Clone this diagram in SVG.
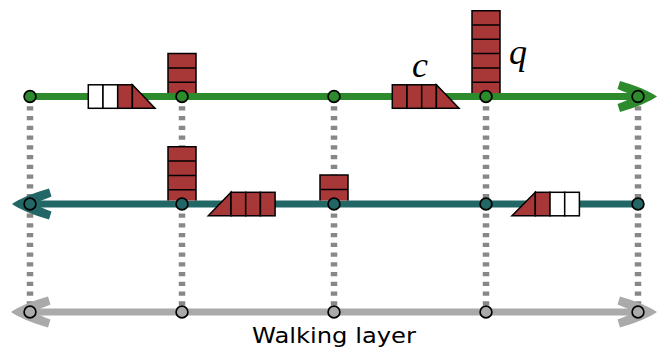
<svg xmlns="http://www.w3.org/2000/svg" xmlns:xlink="http://www.w3.org/1999/xlink" width="667" height="349" viewBox="0 0 667 349">
<style>
.dot{stroke:#888;stroke-width:6.5;stroke-dasharray:4.2 5.55;fill:none}
.hl{stroke-width:7;fill:none}
.g{stroke:#2d8a2d}.t{stroke:#236666}.w{stroke:#aaa}
.box{fill:#a83838;stroke:#000;stroke-width:1.5}
.wb{fill:#fff;stroke:#000;stroke-width:1.5}
.sf{fill:#a83838}
.se{fill:none;stroke:#000;stroke-width:1.5}
.n{stroke:#000;stroke-width:1.7}
.math{font-family:"Liberation Serif",serif;font-style:italic;font-size:36px}
.lbl{font-family:"DejaVu Sans",sans-serif;font-size:22px}
</style>
<defs>
<path id="ah" d="M0,0 C-6,-4.5 -22,-11.5 -37,-15.5 L-39.5,-7.5 C-33,-5 -27,-2.5 -22,0 C-27,2.5 -33,5 -39.5,7.5 L-37,15.5 C-22,11.5 -6,4.5 0,0 Z"/>
</defs>
<g id="connectors">
<path class="dot" d="M30,96.5V312M182,96.5V312M334,96.5V312M486,96.5V312M638,96.5V312"/>
<path class="hl g" d="M30,96.5H645"/>
<use xlink:href="#ah" href="#ah" transform="translate(657,96.5)" fill="#2d8a2d"/>
<path class="hl t" d="M24,204H638"/>
<use xlink:href="#ah" href="#ah" transform="translate(12,204) scale(-1,1)" fill="#236666"/>
<path class="hl w" d="M24,312H645"/>
<use xlink:href="#ah" href="#ah" transform="translate(657,312)" fill="#aaa"/>
<use xlink:href="#ah" href="#ah" transform="translate(11,312) scale(-1,1)" fill="#aaa"/>
</g>
<g id="stack-top-182">
<rect class="sf" x="168" y="53.6" width="28" height="39.4"/>
<path class="se" d="M168,93V53.6H196V93M168,67.9H196M168,82.2H196"/>
</g>
<g id="stack-top-486">
<rect class="sf" x="472" y="10.7" width="28" height="82.3"/>
<path class="se" d="M472,93V10.7H500V93M472,25H500M472,39.3H500M472,53.6H500M472,67.9H500M472,82.2H500"/>
</g>
<g id="stack-mid-182">
<rect class="sf" x="168" y="146.8" width="28" height="53.7"/>
<path class="se" d="M168,200.5V146.8H196V200.5M168,161.1H196M168,175.4H196M168,189.7H196"/>
</g>
<g id="stack-mid-334">
<rect class="sf" x="320" y="175" width="28" height="25.5"/>
<path class="se" d="M320,200.5V175H348V200.5M320,189.5H348"/>
</g>
<g id="queue-top-1">
<rect class="wb" x="88.3" y="84.8" width="14.7" height="23.5"/>
<rect class="wb" x="103" y="84.8" width="14.7" height="23.5"/>
<rect class="box" x="117.7" y="84.8" width="14.7" height="23.5"/>
<path class="box" d="M132.4,84.8L155,108.3H132.4Z"/>
</g>
<g id="queue-top-c">
<rect class="box" x="392.3" y="84.8" width="14.7" height="23.5"/>
<rect class="box" x="407" y="84.8" width="14.7" height="23.5"/>
<rect class="box" x="421.7" y="84.8" width="14.7" height="23.5"/>
<path class="box" d="M436.4,84.8L459,108.3H436.4Z"/>
<text class="math" x="420" y="77" text-anchor="middle">c</text>
</g>
<g id="queue-mid-1">
<path class="box" d="M231,192.3L208.3,215.8H231Z"/>
<rect class="box" x="231" y="192.3" width="14.7" height="23.5"/>
<rect class="box" x="245.7" y="192.3" width="14.7" height="23.5"/>
<rect class="box" x="260.4" y="192.3" width="14.7" height="23.5"/>
</g>
<g id="queue-mid-2">
<path class="box" d="M535.3,192.3L512,215.8H535.3Z"/>
<rect class="box" x="535.3" y="192.3" width="14.7" height="23.5"/>
<rect class="wb" x="550" y="192.3" width="14.7" height="23.5"/>
<rect class="wb" x="564.7" y="192.3" width="14.7" height="23.5"/>
</g>
<g id="label-q"><text class="math" x="518" y="63.5" text-anchor="middle">q</text></g>
<g id="nodes-green" fill="#2d8a2d">
<circle id="g1" class="n" cx="30" cy="96.5" r="5.9"/>
<circle id="g2" class="n" cx="182" cy="96.5" r="5.9"/>
<circle id="g3" class="n" cx="334" cy="96.5" r="5.9"/>
<circle id="g4" class="n" cx="486" cy="96.5" r="5.9"/>
<circle id="g5" class="n" cx="638" cy="96.5" r="5.9"/>
</g>
<g id="nodes-teal" fill="#236666">
<circle id="t1" class="n" cx="30" cy="204" r="5.9"/>
<circle id="t2" class="n" cx="182" cy="204" r="5.9"/>
<circle id="t3" class="n" cx="334" cy="204" r="5.9"/>
<circle id="t4" class="n" cx="486" cy="204" r="5.9"/>
<circle id="t5" class="n" cx="638" cy="204" r="5.9"/>
</g>
<g id="nodes-walk" fill="#aaa">
<circle id="w1" class="n" cx="30" cy="312" r="5.9"/>
<circle id="w2" class="n" cx="182" cy="312" r="5.9"/>
<circle id="w3" class="n" cx="334" cy="312" r="5.9"/>
<circle id="w4" class="n" cx="486" cy="312" r="5.9"/>
<circle id="w5" class="n" cx="638" cy="312" r="5.9"/>
</g>
<g id="label-walking"><text class="lbl" x="334" y="343" text-anchor="middle" textLength="164" lengthAdjust="spacingAndGlyphs">Walking layer</text></g>
</svg>
